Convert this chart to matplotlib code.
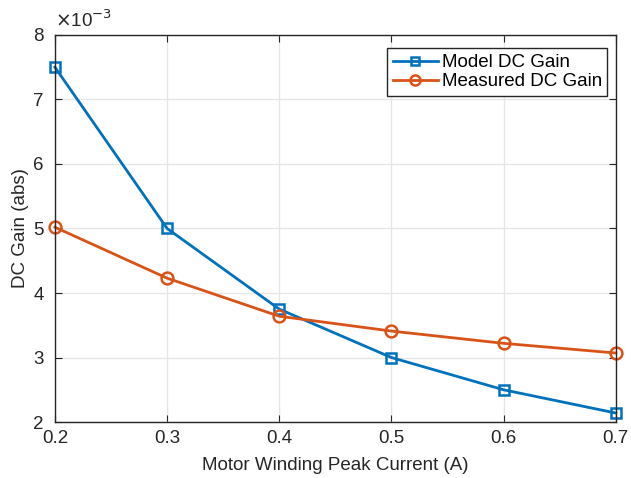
import matplotlib
matplotlib.use('Agg')
import matplotlib.pyplot as plt
from matplotlib.ticker import FuncFormatter

plt.rcParams['font.family'] = ['Liberation Sans', 'DejaVu Sans']

current = [0.2, 0.3, 0.4, 0.5, 0.6, 0.7]
model_gain = [7.5e-3, 5.0e-3, 3.75e-3, 3.0e-3, 2.5e-3, 2.14e-3]
measured_gain = [5.02e-3, 4.23e-3, 3.64e-3, 3.41e-3, 3.22e-3, 3.07e-3]

fig = plt.figure(figsize=(6.31, 4.78), dpi=100)
ax = fig.add_axes([0.087, 0.117, 0.889, 0.81])

ax.plot(current, model_gain, '-s', color='#0072BD', lw=2, ms=7,
        mfc='none', mew=1.8, label='Model DC Gain', clip_on=False)
ax.plot(current, measured_gain, '-o', color='#D95319', lw=2, ms=8.5,
        mfc='none', mew=1.8, label='Measured DC Gain', clip_on=False)

ax.set_xlim(0.2, 0.7)
ax.set_ylim(2e-3, 8e-3)
ax.set_xticks(current)
ax.set_yticks([2e-3, 3e-3, 4e-3, 5e-3, 6e-3, 7e-3, 8e-3])
ax.xaxis.set_major_formatter(FuncFormatter(lambda v, p: '%g' % round(v, 2)))
ax.yaxis.set_major_formatter(FuncFormatter(lambda v, p: '%g' % round(v * 1e3, 3)))

ax.grid(True, color='#e6e6e6', lw=1)
ax.set_axisbelow(True)
for s in ax.spines.values():
    s.set_color('#262626')
    s.set_linewidth(1)
ax.tick_params(direction='in', length=5, labelsize=13.5, colors='#262626',
               top=True, right=True)
ax.tick_params(axis='x', pad=6)
ax.tick_params(axis='y', pad=8)

ax.set_xlabel('Motor Winding Peak Current (A)', fontsize=13.5, color='#262626',
              labelpad=7)
ax.set_ylabel('DC Gain (abs)', fontsize=13.5, color='#262626', labelpad=3)
ax.text(0.0, 1.01, r'$\times$10$^{-3}$', transform=ax.transAxes,
        fontsize=13.5, color='#262626', ha='left', va='bottom')

leg = ax.legend(loc='upper right', fontsize=13.5, fancybox=False,
                edgecolor='#262626', framealpha=1, borderpad=0.3,
                handlelength=2.4, handletextpad=0.2, labelspacing=0.1,
                borderaxespad=0, bbox_to_anchor=(0.985, 0.965),
                markerscale=0.85)
leg.get_frame().set_linewidth(1)

fig.savefig('out.png', dpi=100)
